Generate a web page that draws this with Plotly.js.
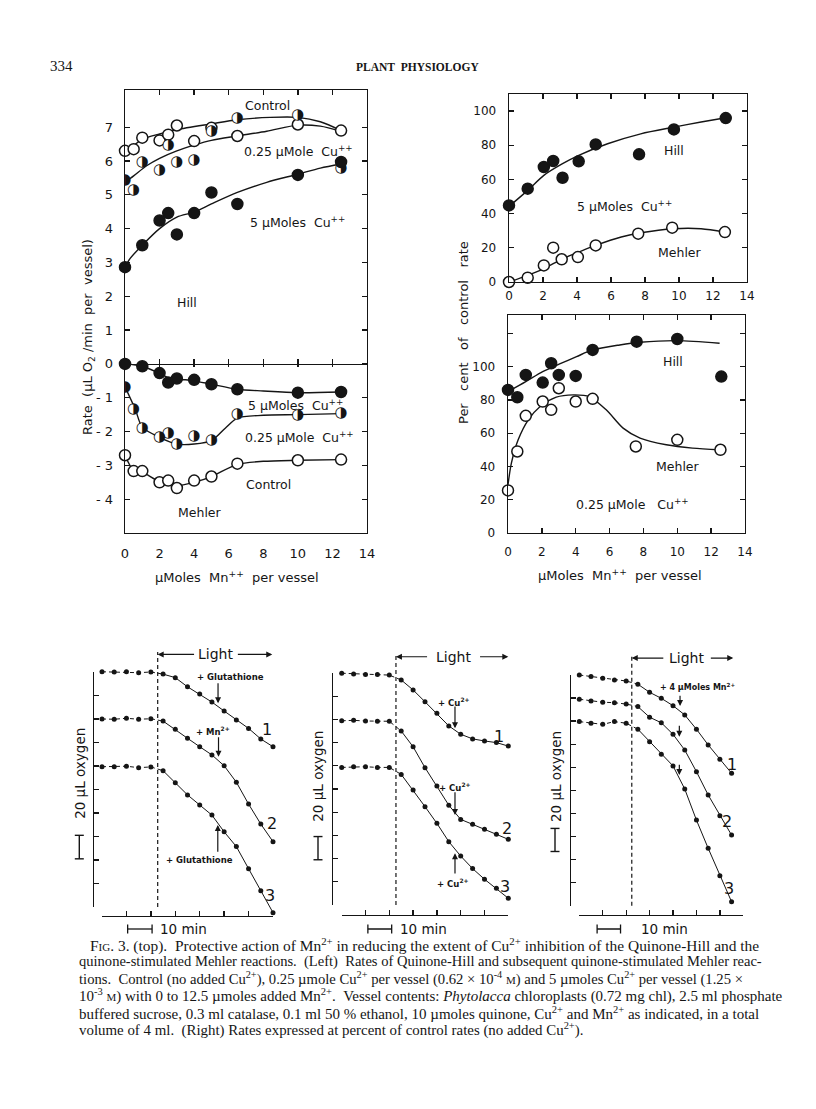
<!DOCTYPE html>
<html>
<head>
<meta charset="utf-8">
<script src="https://cdn.plot.ly/plotly-3.0.1.min.js"></script>
<style>html,body{margin:0;padding:0;background:#fff}</style>
</head>
<body>
<div id="chart" style="width:816px;height:1109px"></div>
<script>
// ================= DATA =================
// Left panel – Hill reaction, rate (µL O2/min per vessel) vs µmoles Mn++ per vessel
const hillControlMn   = [0, 0.5, 1, 2, 2.5, 3, 4, 5, 6.5, 10, 12.5];
const hillControlRate = [6.30, 6.35, 6.69, 6.61, 6.78, 7.05, 6.59, 6.98, 6.74, 7.08, 6.90];
const hillCu025Mn     = [0, 0.5, 1, 2, 2.5, 3, 4, 5, 6.5, 10, 12.5];
const hillCu025Rate   = [5.42, 5.14, 5.97, 5.73, 6.47, 5.97, 6.02, 6.88, 7.25, 7.34, 5.80];
const hillCu5Mn       = [0, 1, 2, 2.5, 3, 4, 5, 6.5, 10, 12.5];
const hillCu5Rate     = [2.86, 3.51, 4.24, 4.46, 3.83, 4.46, 5.07, 4.73, 5.59, 5.97];
// drawn (hand-fitted) curves
const fitHillControlMn   = [0.25, 1, 2, 3, 5, 6.5, 8.4, 10, 11.3, 12.5];
const fitHillControlRate = [6.35, 6.64, 6.80, 6.93, 7.10, 7.22, 7.29, 7.29, 7.16, 6.90];
const fitHillCu025Mn     = [0, 0.5, 1.25, 2, 3, 4, 5, 6.5, 8.2, 10, 11.3, 12.5];
const fitHillCu025Rate   = [5.37, 5.56, 5.86, 6.08, 6.30, 6.47, 6.61, 6.74, 6.88, 7.06, 7.03, 6.88];
const fitHillCu5Mn       = [0, 0.3, 1, 2, 3, 4, 5, 6.5, 8.2, 10, 11.3, 12.5];
const fitHillCu5Rate     = [2.86, 3.12, 3.51, 4.0, 4.34, 4.49, 4.73, 5.07, 5.37, 5.61, 5.79, 5.91];

// Left panel – Mehler reaction (negative rates)
const mehCu5Mn       = [0, 1, 2, 2.5, 3, 4, 5, 6.5, 10, 12.5];
const mehCu5Rate     = [0, -0.07, -0.27, -0.55, -0.43, -0.47, -0.60, -0.75, -0.85, -0.83];
const mehCu025Mn     = [0, 0.5, 1, 2, 2.5, 3, 4, 5, 6.5, 10, 12.5];
const mehCu025Rate   = [-0.68, -1.35, -1.90, -2.17, -2.05, -2.37, -2.15, -2.25, -1.50, -1.52, -1.47];
const mehControlMn   = [0, 0.5, 1, 2, 2.5, 3, 4, 5, 6.5, 10, 12.5];
const mehControlRate = [-2.70, -3.17, -3.17, -3.50, -3.45, -3.67, -3.45, -3.33, -2.95, -2.85, -2.83];
const fitMehCu5Mn       = [0, 1, 2, 2.7, 3.5, 4, 5, 6.5, 8, 10, 12.5];
const fitMehCu5Rate     = [0, -0.07, -0.28, -0.45, -0.47, -0.5, -0.6, -0.75, -0.8, -0.85, -0.83];
const fitMehCu025Mn     = [0, 0.6, 1, 2, 3, 4, 5, 5.8, 6.5, 8, 10, 12.5];
const fitMehCu025Rate   = [-0.68, -1.35, -1.87, -2.17, -2.37, -2.37, -2.27, -1.9, -1.6, -1.52, -1.5, -1.47];
const fitMehControlMn   = [0, 0.5, 1, 2, 3, 4, 5, 6.5, 8, 10, 12.5];
const fitMehControlRate = [-2.70, -3.15, -3.2, -3.48, -3.6, -3.5, -3.33, -2.97, -2.88, -2.85, -2.83];

// Right top – 5 µmoles Cu++, per cent of control rate
const rtHillMn  = [0, 1.1, 2.05, 2.6, 3.15, 4.1, 5.1, 7.65, 9.7, 12.75];
const rtHillPct = [44.8, 54.6, 67.3, 70.8, 61.0, 70.6, 80.5, 74.7, 89.3, 95.9];
const rtMehMn   = [0, 1.1, 2.05, 2.6, 3.1, 4.05, 5.1, 7.6, 9.6, 12.7];
const rtMehPct  = [0, 2.5, 9.7, 20.1, 13.3, 14.6, 21.4, 28.3, 31.8, 29.2];
const rtFitHillMn  = [0, 1.1, 2.05, 3.15, 4.1, 5.8, 7.75, 9.7, 11.3, 12.75];
const rtFitHillPct = [44.2, 53.6, 62.4, 69.2, 74.1, 80.9, 86.7, 90.6, 93.6, 96.1];
const rtFitMehMn   = [0, 1.1, 2.05, 3.15, 4.1, 5.1, 6.6, 7.75, 9.7, 11.3, 12.7];
const rtFitMehPct  = [0, 3.9, 7.8, 13.6, 17.5, 21.4, 26.3, 28.8, 31.2, 31.2, 29.2];

// Right bottom – 0.25 µmole Cu++, per cent of control rate
const rbHillMn  = [0, 0.55, 1.05, 2.05, 2.55, 3, 4, 5, 7.6, 10, 12.6];
const rbHillPct = [86, 81.6, 95, 90.4, 102, 95, 94.4, 110, 115, 116.6, 94];
const rbMehMn   = [0, 0.55, 1.05, 2.05, 2.55, 3, 4, 5, 7.55, 10, 12.55];
const rbMehPct  = [25.6, 49, 70.4, 79, 74, 87, 79, 80.6, 52, 56, 50];
const rbFitHillMn  = [0, 1.05, 2.05, 3.05, 4.05, 5, 6.6, 7.8, 10, 12.5];
const rbFitHillPct = [85, 91, 97, 101.6, 106, 110, 113, 114.6, 115.6, 114];
const rbFitMehMn   = [0, 0.2, 0.6, 1.2, 1.9, 2.85, 3.85, 4.8, 5.8, 6.8, 7.8, 9.35, 10.9, 12.5];
const rbFitMehPct  = [29, 42, 56, 68, 76, 81.6, 83, 82, 74, 63, 57, 53, 51, 50];

// Bottom – manometer traces (µL oxygen, relative) vs time (min)
const minutesAB = [0, 5, 10, 15, 20, 25, 30, 35, 40, 45, 50, 55, 60, 65, 70];
const minutesC  = [0, 5, 10, 15, 20, 25, 30, 35, 40, 45, 50, 55, 60, 65];
const traceA1 = [200.2, 200, 200.2, 199.4, 200, 198.2, 195.2, 187.4, 181.2, 174.4, 166.8, 159.2, 152, 143, 136.4];
const traceA2 = [160, 159.8, 160.6, 159.8, 160.2, 158.2, 151.2, 143.6, 136.4, 129.4, 120.2, 106.2, 87.6, 70.6, 55.6];
const traceA3 = [119.4, 119.4, 119.8, 118.6, 119.2, 116, 105.8, 95.4, 86.8, 78.2, 64, 51.4, 32.6, 13.8, -4.8];
const traceB1 = [199.8, 199.2, 198.6, 198.6, 198.2, 194, 185.4, 175.2, 165.2, 154.4, 147.2, 143.2, 141.4, 140, 137];
const traceB2 = [158.8, 159.2, 158.6, 158.4, 158.4, 150, 136.4, 118.4, 102.6, 86, 73.8, 69.6, 65.2, 61, 56.6];
const traceB3 = [118.6, 119.2, 119.2, 118.6, 118.6, 112.6, 99.2, 84.8, 70.4, 54.6, 42.2, 31.4, 22.2, 14.4, 5.8];
const traceC1 = [200, 198.6, 197.2, 195.6, 194.8, 192, 185, 179.8, 173.4, 165.4, 153, 139.4, 127, 114.8];
const traceC2 = [179, 177.4, 176.4, 176, 174.8, 172.6, 163.4, 158.6, 148.6, 135, 116.2, 96, 78, 61.2];
const traceC3 = [159.6, 158.2, 157.2, 159.6, 158.2, 153, 142.2, 131.2, 121.2, 101.2, 74.2, 49.8, 26, 3.4];
const lightOnA = 22.8, lightOnB = 22.8, lightOnC = 22.4;
const scaleBarUl = 20;      // "20 µL oxygen" bar
const scaleBarMin = 10;     // "10 min" bar

const mnTicks = [0, 2, 4, 6, 8, 10, 12, 14];
const rateTicks = [-4, -3, -2, -1, 0, 1, 2, 3, 4, 5, 6, 7];
const rateTickText = ['- 4', '- 3', '- 2', '- 1', '0', '1', '2', '3', '4', '5', '6', '7'];

// ================= HELPERS =================
const W = 816, H = 1109;
const X = p => p / W;
const Y = p => 1 - p / H;
const dX = (a, b) => [a / W, b / W];
const dY = (top, bot) => [1 - bot / H, 1 - top / H];
const INK = '#151515';
const FONT = 'DejaVu Sans, sans-serif';

const traces = [];
function line(x, y, xa, ya, extra) {
  traces.push({type: 'scatter', mode: 'lines', x, y, xaxis: xa, yaxis: ya, hoverinfo: 'skip',
    line: Object.assign({color: INK, width: 1.4, shape: 'spline', smoothing: 0.8}, extra || {})});
}
function pts(x, y, xa, ya, kind, size) {
  size = size || 11;
  if (kind === 'half') {
    traces.push({type: 'scatter', mode: 'markers+text', x, y, xaxis: xa, yaxis: ya, hoverinfo: 'skip',
      marker: {size: size - 1, color: 'white', line: {width: 0}},
      text: x.map(() => '\u25D1'), textposition: 'middle center',
      textfont: {family: 'DejaVu Sans', size: 15, color: INK}});
    return;
  }
  traces.push({type: 'scatter', mode: 'markers', x, y, xaxis: xa, yaxis: ya, hoverinfo: 'skip', cliponaxis: false,
    marker: {size, symbol: 'circle', color: kind === 'open' ? 'white' : INK, line: {color: INK, width: 1.5}}});
}
function dummy(xa, ya) { traces.push({type: 'scatter', mode: 'none', x: [], y: [], xaxis: xa, yaxis: ya, hoverinfo: 'skip'}); }

function axBase(o) {
  return Object.assign({showgrid: false, zeroline: false, showline: true, linecolor: INK, linewidth: 1.4,
    tickcolor: INK, tickwidth: 1.3, ticklen: 5, fixedrange: true,
    tickfont: {family: FONT, size: 12, color: INK}}, o);
}

const annotations = [];
const shapes = [];
function txt(x, y, text, xref, yref, size, extra) {
  annotations.push(Object.assign({x, y, text, xref, yref, showarrow: false, xanchor: 'center', yanchor: 'middle',
    font: {family: FONT, size, color: INK}}, extra || {}));
}
function arrow(x, y, ax, ay, xref, yref, head) {
  annotations.push({x, y, ax, ay, xref, yref, axref: xref, ayref: yref, text: '', showarrow: true,
    arrowhead: head === undefined ? 2 : head, arrowsize: 1, arrowwidth: 1.2, arrowcolor: INK});
}

// ================= LEFT PANEL =================
const leftYRange = [-5, 8.1];
const leftYDom = dY(90, 533);
const zeroPos = leftYDom[0] + (0 - leftYRange[0]) / (leftYRange[1] - leftYRange[0]) * (leftYDom[1] - leftYDom[0]);

line(fitHillControlMn, fitHillControlRate, 'x', 'y');
line(fitHillCu025Mn, fitHillCu025Rate, 'x', 'y');
line(fitHillCu5Mn, fitHillCu5Rate, 'x', 'y');
line(fitMehCu5Mn, fitMehCu5Rate, 'x', 'y');
line(fitMehCu025Mn, fitMehCu025Rate, 'x', 'y');
line(fitMehControlMn, fitMehControlRate, 'x', 'y');
pts(hillControlMn, hillControlRate, 'x', 'y', 'open');
pts(hillCu025Mn, hillCu025Rate, 'x', 'y', 'half');
pts(hillCu5Mn, hillCu5Rate, 'x', 'y', 'filled');
pts(mehControlMn, mehControlRate, 'x', 'y', 'open');
pts(mehCu025Mn, mehCu025Rate, 'x', 'y', 'half');
pts(mehCu5Mn, mehCu5Rate, 'x', 'y', 'filled');
dummy('x2', 'y'); dummy('x3', 'y'); dummy('x4', 'y');

txt(8.27, 7.65, 'Control', 'x', 'y', 12.5);
txt(10.06, 6.30, '0.25 µMole\u00a0\u00a0Cu<sup>++</sup>', 'x', 'y', 12.5);
txt(9.97, 4.20, '5 µMoles\u00a0\u00a0Cu<sup>++</sup>', 'x', 'y', 12.5);
txt(3.57, 1.81, 'Hill', 'x', 'y', 12.5);
txt(9.89, -1.22, '5 µMoles\u00a0\u00a0Cu<sup>++</sup>', 'x', 'y', 12.5);
txt(10.12, -2.17, '0.25 µMole\u00a0\u00a0Cu<sup>++</sup>', 'x', 'y', 12.5);
txt(8.33, -3.58, 'Control', 'x', 'y', 12.5);
txt(4.32, -4.40, 'Mehler', 'x', 'y', 12.5);
txt(X(236.7), Y(577), 'µMoles\u00a0\u00a0Mn<sup>++</sup>\u00a0\u00a0per\u00a0vessel', 'paper', 'paper', 13);
txt(X(88), Y(337), 'Rate\u00a0\u00a0(µL O<sub>2</sub> /min\u00a0\u00a0per\u00a0\u00a0vessel)', 'paper', 'paper', 13, {textangle: -90});

// ================= RIGHT PANELS =================
line(rtFitHillMn, rtFitHillPct, 'x5', 'y5');
line(rtFitMehMn, rtFitMehPct, 'x5', 'y5');
pts(rtHillMn, rtHillPct, 'x5', 'y5', 'filled');
pts(rtMehMn, rtMehPct, 'x5', 'y5', 'open');
line(rbFitHillMn, rbFitHillPct, 'x6', 'y6');
line(rbFitMehMn, rbFitMehPct, 'x6', 'y6');
pts(rbHillMn, rbHillPct, 'x6', 'y6', 'filled');
pts(rbMehMn, rbMehPct, 'x6', 'y6', 'open');

txt(9.7, 77.2, 'Hill', 'x5', 'y5', 12.5);
txt(6.77, 44.5, '5 µMoles\u00a0\u00a0Cu<sup>++</sup>', 'x5', 'y5', 12.5);
txt(10.06, 17.1, 'Mehler', 'x5', 'y5', 12.5);
txt(9.72, 102.9, 'Hill', 'x6', 'y6', 12.5);
txt(10.04, 39.8, 'Mehler', 'x6', 'y6', 12.5);
txt(7.35, 17.4, '0.25 µMole\u00a0\u00a0\u00a0Cu<sup>++</sup>', 'x6', 'y6', 12.5);
txt(X(620), Y(575), 'µMoles\u00a0\u00a0Mn<sup>++</sup>\u00a0\u00a0per\u00a0vessel', 'paper', 'paper', 13);
txt(X(463), Y(333), 'Per\u00a0\u00a0\u00a0cent\u00a0\u00a0\u00a0of\u00a0\u00a0\u00a0control\u00a0\u00a0\u00a0rate', 'paper', 'paper', 13, {textangle: -90});

// ================= BOTTOM PANELS =================
const bottomPanels = [
  {xa: 'x7', ya: 'y7', br: 'y8', xPx: [102, 273], brPx: [672, 907], brX: 93, bot: 916, t: minutesAB,
   curves: [traceA1, traceA2, traceA3], on: lightOnA, lightY: 215, lightTxt: 46.5, lArrow: [38.3, 22.8], rArrow: [55, 69.7],
   barPx: 79.3, barV0: 41, oxyV: 114, minBar: 10.5, minTxt: 33.2},
  {xa: 'x9', ya: 'y9', br: 'y10', xPx: [341.7, 508.3], brPx: [673, 905], brX: 331.7, bot: 915, t: minutesAB,
   curves: [traceB1, traceB2, traceB3], on: lightOnB, lightY: 214, lightTxt: 46.9, lArrow: [36.5, 22.8], rArrow: [57.5, 70],
   barPx: 318, barV0: 39, oxyV: 111, minBar: 11, minTxt: 34.2},
  {xa: 'x11', ya: 'y11', br: 'y12', xPx: [579.3, 743.3], brPx: [675, 905.7], brX: 570, bot: 915, t: minutesC,
   curves: [traceC1, traceC2, traceC3], on: lightOnC, lightY: 214.7, lightTxt: 45.9, lArrow: [36.5, 22.4], rArrow: [55.5, 65.7],
   barPx: 555, barV0: 47, oxyV: 112, minBar: 7.6, minTxt: 36.5}
];
const minBarPx = 929;

const layout = {
  width: W, height: H, margin: {l: 0, r: 0, t: 0, b: 0}, paper_bgcolor: '#ffffff', plot_bgcolor: 'rgba(0,0,0,0)',
  showlegend: false, font: {family: FONT, color: INK, size: 12},
  xaxis: axBase({domain: dX(125, 367), range: [0, 14], anchor: 'y', mirror: true, ticks: '', tickvals: mnTicks,
    ticklabelstandoff: 8, tickfont: {family: FONT, size: 13, color: INK}}),
  yaxis: axBase({domain: leftYDom, range: leftYRange, anchor: 'x', mirror: 'ticks', ticks: 'inside',
    tickvals: rateTicks, ticktext: rateTickText, ticklabelstandoff: 8, tickfont: {family: FONT, size: 13, color: INK}}),
  xaxis2: axBase({overlaying: 'x', anchor: 'y', side: 'top', range: [0, 14], showline: false, ticks: 'inside',
    tickvals: [2, 4, 6, 8, 10, 12], showticklabels: false}),
  xaxis3: axBase({overlaying: 'x', anchor: 'free', position: zeroPos, range: [0, 14], ticks: 'inside', ticklen: 5,
    tickvals: [2, 4, 6, 8, 10, 12], showticklabels: false}),
  xaxis4: axBase({overlaying: 'x', anchor: 'free', position: zeroPos, range: [0, 14], showline: false, ticks: 'outside', ticklen: 2,
    tickvals: [2, 4, 6, 8, 10, 12], showticklabels: false}),
  xaxis5: axBase({domain: dX(509, 747), range: [0, 14], anchor: 'y5', mirror: 'ticks', ticks: 'inside', tickvals: mnTicks, ticklabelstandoff: 2}),
  yaxis5: axBase({domain: dY(94, 282), range: [0, 110], anchor: 'x5', mirror: 'ticks', ticks: 'inside',
    tickvals: [0, 20, 40, 60, 80, 100], ticklabelstandoff: 9}),
  xaxis6: axBase({domain: dX(508, 745), range: [0, 14], anchor: 'y6', mirror: 'ticks', ticks: 'inside', tickvals: mnTicks, ticklabelstandoff: 7}),
  yaxis6: axBase({domain: dY(315, 533), range: [0, 131], anchor: 'x6', mirror: 'ticks', ticks: 'inside',
    tickvals: [0, 20, 40, 60, 80, 100, 120], ticktext: ['0', '20', '40', '60', '80', '100', ''], ticklabelstandoff: 9}),
  annotations, shapes
};

bottomPanels.forEach(p => {
  const scale = (p.brPx[1] - p.brPx[0]) / 200;           // px per µL unit
  const lo = -(p.bot - p.brPx[1]) / scale;
  const hi = (p.brPx[1] - 645) / scale;
  const xk = 'xaxis' + p.xa.slice(1), yk = 'yaxis' + p.ya.slice(1), bk = 'yaxis' + p.br.slice(1);
  layout[xk] = axBase({domain: dX(p.xPx[0], p.xPx[1]), range: [0, 70], anchor: p.ya, ticks: 'inside',
    tickvals: [0, 10, 20, 30, 40, 50, 60, 70], showticklabels: false, linewidth: 1.2});
  layout[yk] = axBase({domain: dY(645, p.bot), range: [lo, hi], anchor: p.xa, visible: false});
  layout[bk] = axBase({domain: dY(p.brPx[0], p.brPx[1]), range: [0, 200], anchor: 'free', position: X(p.brX),
    ticks: 'inside', tickvals: [0, 20, 40, 60, 80, 100, 120, 140, 160, 180, 200], showticklabels: false, linewidth: 1.2});
  dummy(p.xa, p.br);
  // light-on line
  traces.push({type: 'scatter', mode: 'lines', x: [p.on, p.on], y: [0, p.lightY + 2], xaxis: p.xa, yaxis: p.ya,
    hoverinfo: 'skip', line: {color: INK, width: 1.2, dash: '4px,3px'}});
  p.curves.forEach(c => {
    traces.push({type: 'scatter', mode: 'lines', x: p.t.slice(0, 6), y: c.slice(0, 6), xaxis: p.xa, yaxis: p.ya,
      hoverinfo: 'skip', line: {color: INK, width: 1, dash: '4px,3px'}});
    traces.push({type: 'scatter', mode: 'lines', x: p.t.slice(5), y: c.slice(5), xaxis: p.xa, yaxis: p.ya,
      hoverinfo: 'skip', line: {color: INK, width: 1}});
    traces.push({type: 'scatter', mode: 'markers', x: p.t, y: c, xaxis: p.xa, yaxis: p.ya, cliponaxis: false,
      hoverinfo: 'skip', marker: {size: 5, color: INK}});
  });
  // Light arrows
  txt(p.lightTxt, p.lightY, 'Light', p.xa, p.ya, 14);
  arrow(p.lArrow[1], p.lightY, p.lArrow[0], p.lightY, p.xa, p.ya, 2);
  arrow(p.rArrow[1], p.lightY, p.rArrow[0], p.lightY, p.xa, p.ya, 2);
  // scale bars
  shapes.push({type: 'line', xref: 'paper', yref: p.ya, x0: X(p.barPx), x1: X(p.barPx), y0: p.barV0, y1: p.barV0 + scaleBarUl, line: {color: INK, width: 1.4}});
  shapes.push({type: 'line', xref: 'paper', yref: p.ya, x0: X(p.barPx - 4.5), x1: X(p.barPx + 4.5), y0: p.barV0, y1: p.barV0, line: {color: INK, width: 1.4}});
  shapes.push({type: 'line', xref: 'paper', yref: p.ya, x0: X(p.barPx - 4.5), x1: X(p.barPx + 4.5), y0: p.barV0 + scaleBarUl, y1: p.barV0 + scaleBarUl, line: {color: INK, width: 1.4}});
  txt(X(p.barPx + 0.5), p.oxyV, '20 µL\u00a0oxygen', 'paper', p.ya, 13.5, {textangle: -90});
  shapes.push({type: 'line', xref: p.xa, yref: 'paper', x0: p.minBar, x1: p.minBar + scaleBarMin, y0: Y(minBarPx), y1: Y(minBarPx), line: {color: INK, width: 1.3}});
  shapes.push({type: 'line', xref: p.xa, yref: 'paper', x0: p.minBar, x1: p.minBar, y0: Y(minBarPx - 4.5), y1: Y(minBarPx + 4.5), line: {color: INK, width: 1.3}});
  shapes.push({type: 'line', xref: p.xa, yref: 'paper', x0: p.minBar + scaleBarMin, x1: p.minBar + scaleBarMin, y0: Y(minBarPx - 4.5), y1: Y(minBarPx + 4.5), line: {color: INK, width: 1.3}});
  txt(p.minTxt, Y(minBarPx), '10 min', p.xa, 'paper', 13.5);
});

// Panel A annotations
const SM = {family: FONT, size: 8.5, color: INK, weight: 'bold'};
txt(52.5, 196, '+ Glutathione', 'x7', 'y7', 8.5, {font: SM});
arrow(47.5, 173.4, 47.5, 191.7, 'x7', 'y7');
txt(45.6, 149.8, '+ Mn<sup>2+</sup>', 'x7', 'y7', 8.5, {font: SM});
arrow(47.7, 127.9, 47.7, 145.8, 'x7', 'y7');
txt(40, 40, '+ Glutathione', 'x7', 'y7', 8.5, {font: SM});
arrow(47.4, 69.8, 47.4, 45.7, 'x7', 'y7');
txt(67.5, 151, '1', 'x7', 'y7', 16);
txt(69.5, 71.2, '2', 'x7', 'y7', 16);
txt(68.9, 10.2, '3', 'x7', 'y7', 16);
// Panel B annotations
txt(47.2, 175.3, '+ Cu<sup>2+</sup>', 'x9', 'y9', 8.5, {font: SM});
arrow(47.6, 152.3, 47.6, 172.4, 'x9', 'y9');
txt(47.6, 102, '+ Cu<sup>2+</sup>', 'x9', 'y9', 8.5, {font: SM});
arrow(47.6, 77.6, 47.6, 98.5, 'x9', 'y9');
txt(46.9, 18.7, '+ Cu<sup>2+</sup>', 'x9', 'y9', 8.5, {font: SM});
arrow(47.6, 44.6, 47.6, 25.9, 'x9', 'y9');
txt(66.1, 145.1, '1', 'x9', 'y9', 16);
txt(69.3, 66.1, '2', 'x9', 'y9', 16);
txt(68.6, 15.8, '3', 'x9', 'y9', 16);
// Panel C annotations
txt(50.5, 189.9, '+ 4 µMoles Mn<sup>2+</sup>', 'x11', 'y11', 8, {font: Object.assign({}, SM, {size: 8})});
arrow(43, 173.1, 43, 183.3, 'x11', 'y11');
arrow(42.7, 146.5, 42.7, 157.3, 'x11', 'y11');
arrow(42.7, 113.3, 42.7, 123.4, 'x11', 'y11');
txt(65.1, 122, '1', 'x11', 'y11', 16);
txt(63, 72.8, '2', 'x11', 'y11', 16);
txt(63.7, 15.1, '3', 'x11', 'y11', 16);

// ================= HEADER & CAPTION =================
const SERIF = 'Liberation Serif, Times New Roman, serif';
txt(X(61), Y(66), '334', 'paper', 'paper', 15, {font: {family: SERIF, size: 15, color: INK}});
txt(X(418), Y(67), 'PLANT\u00a0\u00a0PHYSIOLOGY', 'paper', 'paper', 11.5, {font: {family: SERIF, size: 11.5, color: INK, weight: 'bold'}});
const SC = '<span style="font-size:11px">';
const captionLines = [
  'F' + SC + 'IG</span>. 3. (top).\u00a0\u00a0Protective action of Mn<sup>2+</sup> in reducing the extent of Cu<sup>2+</sup> inhibition of the Quinone-Hill and the',
  'quinone-stimulated Mehler reactions.\u00a0\u00a0(Left)\u00a0\u00a0Rates of Quinone-Hill and subsequent quinone-stimulated Mehler reac-',
  'tions.\u00a0\u00a0Control (no added Cu<sup>2+</sup>), 0.25 µmole Cu<sup>2+</sup> per vessel (0.62 × 10<sup>-4</sup> ' + SC + 'M</span>) and 5 µmoles Cu<sup>2+</sup> per vessel (1.25 ×',
  '10<sup>-3</sup> ' + SC + 'M</span>) with 0 to 12.5 µmoles added Mn<sup>2+</sup>.\u00a0\u00a0Vessel contents: <i>Phytolacca</i> chloroplasts (0.72 mg chl), 2.5 ml phosphate',
  'buffered sucrose, 0.3 ml catalase, 0.1 ml 50 % ethanol, 10 µmoles quinone, Cu<sup>2+</sup> and Mn<sup>2+</sup> as indicated, in a total',
  'volume of 4 ml.\u00a0\u00a0(Right) Rates expressed at percent of control rates (no added Cu<sup>2+</sup>).'
];
const captionSizes = [15.45, 14.55, 14.65, 15.0, 15.0, 14.9];
captionLines.forEach((s, i) => {
  txt(X(i === 0 ? 88 : 77), Y(945 + i * 16.9), s, 'paper', 'paper', captionSizes[i],
    {xanchor: 'left', font: {family: SERIF, size: captionSizes[i], color: INK}});
});

Plotly.newPlot('chart', traces, layout, {displayModeBar: false, staticPlot: true});
</script>
</body>
</html>
